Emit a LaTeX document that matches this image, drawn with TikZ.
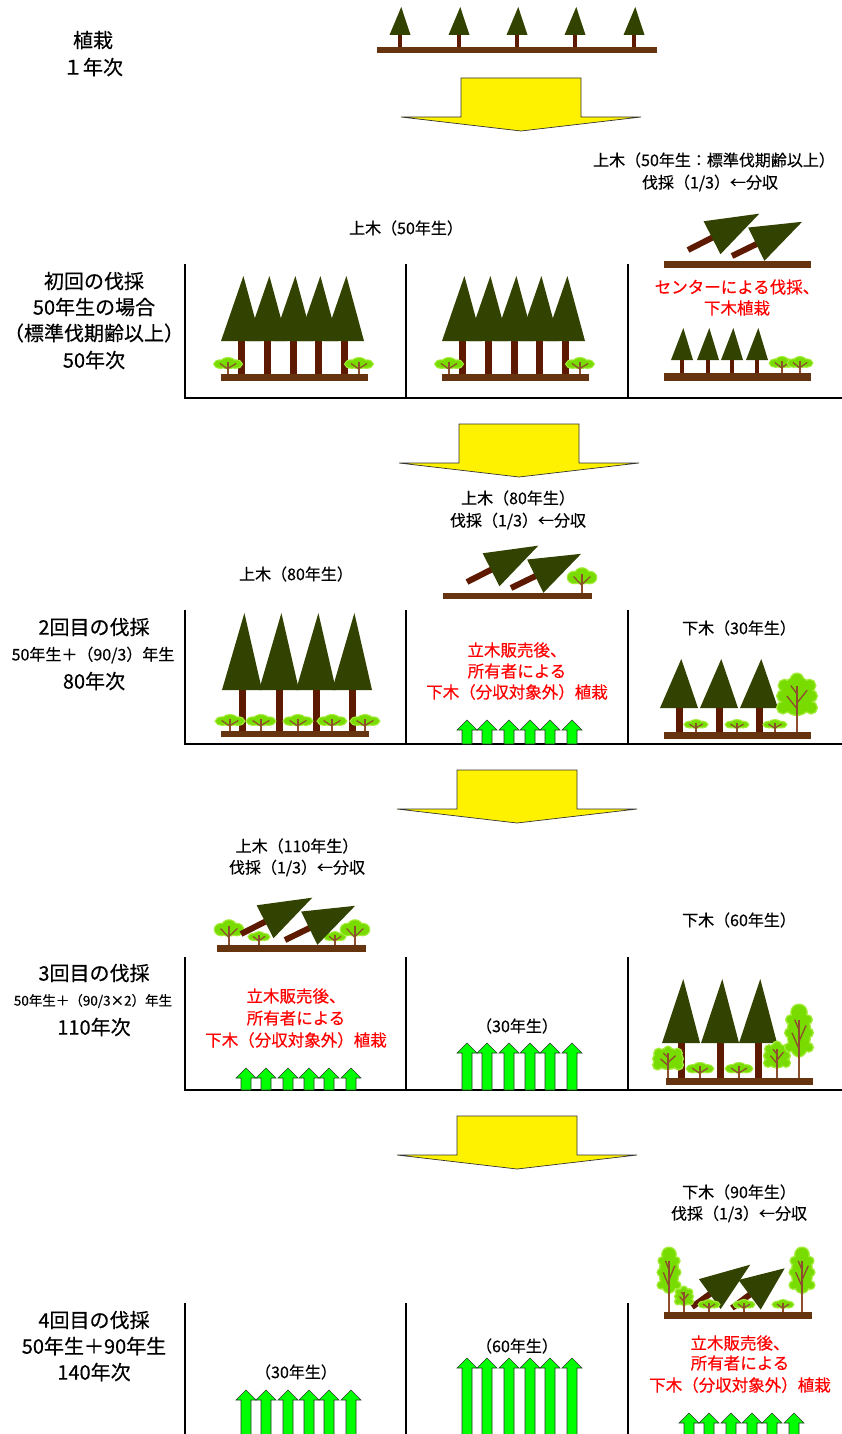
\documentclass[tikz,border=0pt]{standalone}
\usepackage{fontspec}
\newfontfamily\jp[FakeBold=0.4]{Noto Sans CJK JP}
\definecolor{cfgreen}{RGB}{50,66,0}
\definecolor{bark}{RGB}{94,26,0}
\definecolor{soil}{RGB}{102,52,14}
\definecolor{leafc}{RGB}{120,220,0}
\definecolor{leafedge}{RGB}{165,236,60}
\definecolor{twig}{RGB}{140,78,45}
\definecolor{sproutc}{RGB}{0,255,0}
\definecolor{sproutline}{RGB}{40,60,40}
\definecolor{notered}{RGB}{255,0,0}

\tikzset{
  lbl/.style={font=\jp\fontsize{16}{16}\selectfont, inner sep=0pt},
  biglbl/.style={font=\jp\fontsize{20}{20}\selectfont, inner sep=0pt},
  rednote/.style={font=\jp\fontsize{16.5}{16.5}\selectfont, inner sep=0pt, text=notered},
  gridline/.style={line width=1.3pt, black},
  % upright conifer: apex height, canopy base height, half width, trunk width
  pics/conifer/.style n args={4}{code={
    \fill[bark] (-#4/2,0.5) rectangle (#4/2,-#2-2);
    \fill[cfgreen] (-#3,-#2) -- (0.12*#3,-#1) -- (#3,-#2) -- cycle;
  }},
  % felled conifer: angle, trunk length, canopy length
  pics/felled/.style n args={3}{code={
    \begin{scope}[rotate=#1]
      \draw[bark, line width=6pt] (0,0) -- (#2+2,0);
      \fill[cfgreen] (#2,-18.5) -- (#2+#3,0) -- (#2,18.5) -- cycle;
    \end{scope}
  }},
  % low broadleaf bush: height, width
  pics/bush/.style 2 args={code={
    \foreach \c/\lw in {leafedge/2.6,leafc/0.1}{
      \filldraw[fill=\c, draw=\c, line width=\lw pt]
        (-0.27*#2,-0.62*#1) ellipse [x radius=0.23*#2, y radius=0.22*#1]
        (0,-0.74*#1) ellipse [x radius=0.24*#2, y radius=0.24*#1]
        (0.27*#2,-0.62*#1) ellipse [x radius=0.23*#2, y radius=0.22*#1]
        (0,-0.56*#1) ellipse [x radius=0.32*#2, y radius=0.17*#1];
    }
    \draw[twig, line width=2pt] (0,0) -- (0,-0.78*#1);
    \draw[twig, line width=1.2pt] (0,-0.3*#1) -- (-0.3*#2,-0.66*#1)
      (0,-0.34*#1) -- (0.3*#2,-0.66*#1);
  }},
  % upright broadleaf tree: height, width
  pics/leafy/.style 2 args={code={
    \foreach \c/\lw in {leafedge/3,leafc/0.1}{
      \filldraw[fill=\c, draw=\c, line width=\lw pt]
        (0,-0.62*#1) ellipse [x radius=0.4*#2, y radius=0.32*#1]
        (0,-0.9*#1) circle [radius=0.1*#1]
        (-0.36*#2,-0.42*#1) circle [radius=0.14*#2]
        (0.36*#2,-0.42*#1) circle [radius=0.14*#2]
        (-0.36*#2,-0.62*#1) circle [radius=0.14*#2]
        (0.36*#2,-0.62*#1) circle [radius=0.14*#2]
        (-0.32*#2,-0.8*#1) circle [radius=0.14*#2]
        (0.32*#2,-0.8*#1) circle [radius=0.14*#2];
    }
    \draw[twig, line width=2.6pt] (0,0) -- (0,-0.8*#1);
    \draw[twig, line width=1.3pt] (0,-0.4*#1) -- (-0.26*#2,-0.62*#1)
      (0,-0.5*#1) -- (0.26*#2,-0.72*#1) (0,-0.66*#1) -- (-0.16*#2,-0.8*#1);
  }},
  % green growth arrow: height
  pics/sprout/.style={code={
    \filldraw[fill=sproutc, draw=sproutline, line width=0.6pt]
      (-5,0) -- (-5,-#1+10) -- (-10,-#1+10) -- (0,-#1) -- (10,-#1+10)
      -- (5,-#1+10) -- (5,0) -- cycle;
  }},
  % yellow step arrow between stages
  pics/stagearrow/.style={code={
    \filldraw[fill=yellow, draw=black!80, line width=0.7pt]
      (-60,0) -- (60,0) -- (60,39) -- (120,39) -- (0,53) -- (-120,39) -- (-60,39) -- cycle;
  }},
}

\begin{document}
\begin{tikzpicture}[x=1pt, y=-1pt]
\useasboundingbox (0,0) rectangle (842,1434);
\fill[white] (0,0) rectangle (842,1434);

% ---------- planting ----------
\node[biglbl] (t0a) at (93,40) {植栽};
\node[biglbl] (t0b) at (93,67) {１年次};
\foreach \x in {400,459,517,575,634}
  \pic at (\x,47) {conifer={40}{12}{10.5}{3.5}};
\fill[soil] (377,47) rectangle (657,53);
\pic at (521,78) {stagearrow};

% ---------- frames ----------
\foreach \t/\b in {264/398,610/744,957/1090}{
  \draw[gridline] (185,\t) -- (185,\b) -- (842,\b);
  \draw[gridline] (406,\t) -- (406,\b);
  \draw[gridline] (628,\t) -- (628,\b);
}
\draw[gridline] (185,1303) -- (185,1440);
\draw[gridline] (406,1303) -- (406,1440);
\draw[gridline] (628,1303) -- (628,1440);

% ---------- first cutting ----------
\node[biglbl] (s1a) at (94,281) {初回の伐採};
\node[biglbl] (s1b) at (94,307) {50年生の場合};
\node[biglbl] (s1c) at (94,333) {（標準伐期齢以上）};
\node[biglbl] (s1d) at (94,360) {50年次};
\node[lbl] (s1top) at (406,228) {上木（50年生）};
\node[lbl] (s1r1) at (714,160) {上木（50年生：標準伐期齢以上）};
\node[lbl] (s1r2) at (710,183) {伐採（1/3）←分収};
\node[rednote] (s1n1) at (737,287) {センターによる伐採、};
\node[rednote] (s1n2) at (737,308) {下木植栽};

\foreach \dx in {0,221}{
  \foreach \x in {241,267,293,318,344}
    \pic at (\x+\dx,374) {conifer={98}{33}{20}{7}};
  \pic at (228+\dx,374) {bush={16}{27}};
  \pic at (359+\dx,374) {bush={16}{27}};
  \fill[soil] (221+\dx,374) rectangle (368+\dx,381);
}
\pic at (688,250) {felled={27}{27}{53}};
\pic at (732,256) {felled={26}{27}{51}};
\fill[soil] (664,261) rectangle (811,268);
\foreach \x in {682,708,732,757}
  \pic at (\x,373) {conifer={45}{13}{11}{3.5}};
\pic at (782,373) {bush={16}{24}};
\pic at (800,373) {bush={16}{24}};
\fill[soil] (664,373) rectangle (811,381);

\pic at (519,424) {stagearrow};

% ---------- second cutting ----------
\node[biglbl] (s2a) at (94,627) {2回目の伐採};
\node[lbl] (s2b) at (93,655) {50年生＋（90/3）年生};
\node[biglbl] (s2c) at (94,681) {80年次};
\node[lbl] (s2t1) at (518,498) {上木（80年生）};
\node[lbl] (s2t2) at (518,521) {伐採（1/3）←分収};
\node[lbl] (s2l) at (296,574) {上木（80年生）};
\node[lbl] (s2r) at (739,628) {下木（30年生）};
\node[rednote] (s2n1) at (517,650) {立木販売後、};
\node[rednote] (s2n2) at (517,671) {所有者による};
\node[rednote] (s2n3) at (517,692) {下木（分収対象外）植栽};

\pic at (467,582) {felled={27}{27}{53}};
\pic at (511,588) {felled={26}{27}{51}};
\pic at (582,593) {bush={25}{28}};
\fill[soil] (443,593) rectangle (592,599);

\foreach \x in {242,279,316,352}
  \pic at (\x,731) {conifer={118}{41}{20}{7}};
\foreach \x in {230,261,298,332,365}
  \pic at (\x,731) {bush={16}{28}};
\fill[soil] (221,731) rectangle (369,737);

\foreach \dx in {61,81,103,124,144,166}
  \pic at (406+\dx,744) {sprout=24};

\foreach \x in {679,719,759}
  \pic at (\x,732) {conifer={73}{24}{19}{7}};
\foreach \x in {696,737,775}
  \pic at (\x,732) {bush={12}{22}};
\pic at (797,732) {leafy={58}{39}};
\fill[soil] (664,732) rectangle (811,739);

\pic at (517,770) {stagearrow};

% ---------- third cutting ----------
\node[biglbl] (s3a) at (94,973) {3回目の伐採};
\node[font=\jp\fontsize{13.5}{13.5}\selectfont, inner sep=0pt] (s3b) at (93,1001) {50年生＋（90/3×2）年生};
\node[biglbl] (s3c) at (94,1027) {110年次};
\node[lbl] (s3t1) at (297,846) {上木（110年生）};
\node[lbl] (s3t2) at (297,868) {伐採（1/3）←分収};
\node[lbl] (s3r) at (739,920) {下木（60年生）};
\node[rednote] (s3n1) at (296,996) {立木販売後、};
\node[rednote] (s3n2) at (296,1018) {所有者による};
\node[rednote] (s3n3) at (296,1040) {下木（分収対象外）植栽};
\node[lbl] (s3m) at (517,1026) {（30年生）};

\pic at (229,945) {bush={25}{28}};
\pic at (259,945) {bush={13}{20}};
\pic at (335,945) {bush={13}{20}};
\pic at (355,945) {bush={25}{28}};
\pic at (241,934) {felled={27}{27}{53}};
\pic at (285,940) {felled={26}{27}{51}};
\fill[soil] (217,945) rectangle (366,952);

\foreach \dx in {61,81,103,124,144,166}
  \pic at (185+\dx,1090) {sprout=22};
\foreach \dx in {61,81,103,124,144,166}
  \pic at (406+\dx,1090) {sprout=47};

\foreach \x in {681,720,758}
  \pic at (\x,1078) {conifer={99}{35}{19}{7}};
\pic at (668,1078) {leafy={31}{29}};
\pic at (700,1078) {bush={15}{26}};
\pic at (739,1078) {bush={15}{26}};
\pic at (777,1078) {leafy={36}{25}};
\pic at (799,1078) {leafy={73}{27}};
\fill[soil] (666,1078) rectangle (813,1085);

\pic at (517,1116) {stagearrow};

% ---------- fourth cutting ----------
\node[biglbl] (s4a) at (94,1320) {4回目の伐採};
\node[biglbl] (s4b) at (94,1346) {50年生＋90年生};
\node[biglbl] (s4c) at (94,1372) {140年次};
\node[lbl] (s4t1) at (739,1192) {下木（90年生）};
\node[lbl] (s4t2) at (739,1214) {伐採（1/3）←分収};
\node[rednote] (s4n1) at (740,1343) {立木販売後、};
\node[rednote] (s4n2) at (740,1363) {所有者による};
\node[rednote] (s4n3) at (740,1385) {下木（分収対象外）植栽};
\node[lbl] (s4l) at (296,1372) {（30年生）};
\node[lbl] (s4m) at (517,1346) {（60年生）};

\pic at (692,1307) {felled={36}{22}{50}};
\pic at (732,1308) {felled={37}{22}{44}};
\pic at (669,1312) {leafy={64}{22}};
\pic at (802,1312) {leafy={64}{24}};
\pic at (684,1312) {leafy={25}{17}};
\foreach \x in {709,744,783}
  \pic at (\x,1312) {bush={12}{20}};
\fill[soil] (664,1312) rectangle (812,1319);

\foreach \dx in {61,81,103,124,144,166}
  \pic at (185+\dx,1436) {sprout=46};
\foreach \dx in {61,81,103,124,144,166}
  \pic at (406+\dx,1436) {sprout=78};
\foreach \dx in {61,81,103,124,144,166}
  \pic at (628+\dx,1436) {sprout=23};
\end{tikzpicture}
\end{document}
